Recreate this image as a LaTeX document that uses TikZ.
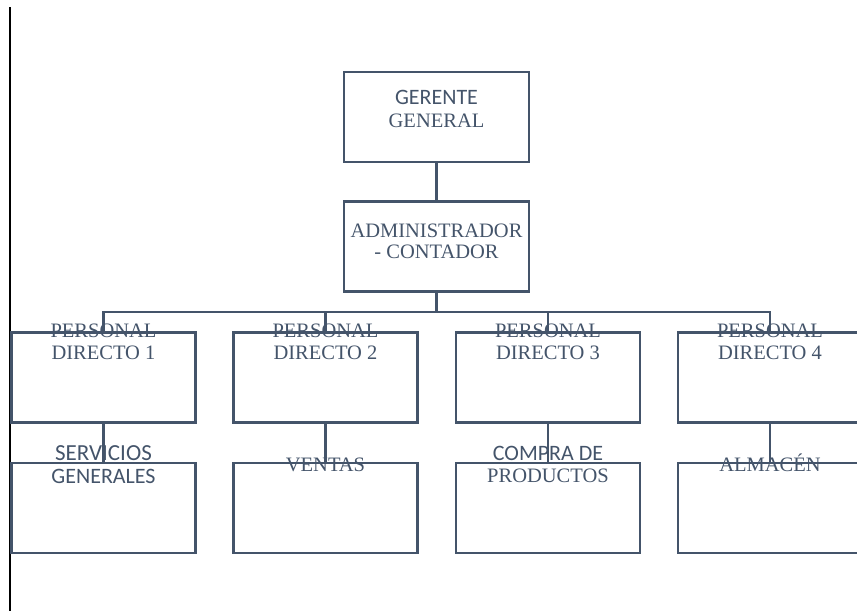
\documentclass[tikz,border=0pt]{standalone}
\usepackage{fontspec}
\setmainfont{Liberation Serif}
\newfontfamily\calfont{Carlito}
\usetikzlibrary{calc}
\definecolor{slate}{HTML}{44546A}
\begin{document}
\begin{tikzpicture}[x=1pt,y=-1pt,
  box/.style={draw=slate, line width=2.8pt, rectangle, minimum width=184pt, minimum height=90pt, inner sep=0pt},
  link/.style={draw=slate, line width=2.8pt},
  lbl/.style={text=slate, inner sep=0pt, anchor=base, font=\fontsize{20.5}{22}\selectfont},
  sanslbl/.style={text=slate, inner sep=0pt, anchor=base, font=\calfont\fontsize{22}{24}\selectfont}]
\useasboundingbox (0,0) rectangle (857,611);
\clip (0,0) rectangle (857,611);

% page margin rule
\coordinate (rtop) at (10,7);
\coordinate (rbot) at (10,611);
\draw[black, line width=1.3pt] (rtop) -- (rbot);

% top of the chart
\node[box, minimum width=185pt] (ger) at (436.5,117) {};
\node[box, minimum width=185pt] (adm) at (436.5,246.5) {};

% first row
\node[box] (p1) at (103.5,377.5) {};
\node[box] (p2) at (325.5,377.5) {};
\node[box] (p3) at (548,377.5) {};
\node[box] (p4) at (770,377.5) {};

% second row
\node[box] (s1) at (103.5,508) {};
\node[box] (s2) at (325.5,508) {};
\node[box] (s3) at (548,508) {};
\node[box] (s4) at (770,508) {};

% connectors
\draw[link] (ger.south) -- (adm.north);
\coordinate (bus) at (436.5,312);
\draw[link] (adm.south) -- (bus);
\draw[link] (p1.north) |- (bus) -| (p4.north);
\draw[link] (p2.north) -- (p2.north |- bus);
\draw[link] (p3.north) -- (p3.north |- bus);
\foreach \i in {1,2,3,4} \draw[link] (p\i.south) -- (s\i.north);

% labels
\node[sanslbl] (t1) at ($(ger.north)+(0,34)$) {GERENTE};
\node[lbl] (t2) at ($(ger.north)+(0,57)$) {GENERAL};
\node[lbl] (t3) at ($(adm.north)+(0,37)$) {ADMINISTRADOR};
\node[lbl] (t4) at ($(adm.north)+(0,58)$) {- CONTADOR};
\foreach \i in {1,2,3,4} {
  \node[lbl] (pa\i) at ($(p\i.north)+(0,6)$) {PERSONAL};
  \node[lbl] (pb\i) at ($(p\i.north)+(0,28)$) {DIRECTO \i};
}
\node[sanslbl, font=\calfont\fontsize{23}{25}\selectfont] (u1) at ($(s1.north)+(0,-1)$) {SERVICIOS};
\node[sanslbl] (u2) at ($(s1.north)+(0,22)$) {GENERALES};
\node[lbl] (u3) at ($(s2.north)+(0,10)$) {VENTAS};
\node[sanslbl] (u4) at ($(s3.north)+(0,-1)$) {COMPRA DE};
\node[lbl] (u5) at ($(s3.north)+(0,21)$) {PRODUCTOS};
\node[lbl] (u6) at ($(s4.north)+(0,10)$) {ALMACÉN};
\end{tikzpicture}
\end{document}
